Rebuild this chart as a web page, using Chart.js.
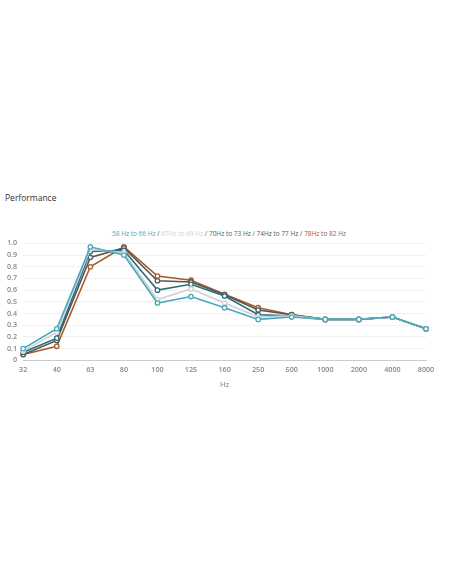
<!DOCTYPE html>
<html>
<head>
<meta charset="utf-8">
<script src="https://cdn.jsdelivr.net/npm/chart.js@4/dist/chart.umd.min.js"></script>
<style>
  body { margin: 0; background: #fff; font-family: "Open Sans", sans-serif; }
  .title { position: absolute; left: 5px; top: 192px; font-size: 8.5px; color: #333; }
  .legend { position: absolute; left: 0; top: 229px; width: 458px; text-align: center; font-size: 6.5px; white-space: nowrap; }
  .legend .sep { color: #555; }
  .wrap { position: absolute; left: 0; top: 233px; width: 452px; height: 156px; }
</style>
</head>
<body>
<div class="title">Performance</div>
<div class="legend" id="legend"></div>
<div class="wrap"><canvas id="chart"></canvas></div>
<script>
const frequencies = ['32', '40', '63', '80', '100', '125', '160', '250', '500', '1000', '2000', '4000', '8000'];
const seriesNames = ['58 Hz to 66 Hz', '67Hz to 69 Hz', '70Hz to 73 Hz', '74Hz to 77 Hz', '78Hz to 82 Hz'];
const seriesColors = ['#46a9bd', '#d2d2d2', '#2b6e7b', '#555555', '#a65b2a'];

const hz58to66 = [0.10, 0.27, 0.97, 0.90, 0.49, 0.545, 0.45, 0.35, 0.37, 0.35, 0.35, 0.37, 0.27];
const hz67to69 = [0.08, 0.24, 0.95, 0.92, 0.52, 0.61, 0.49, 0.37, 0.38, 0.35, 0.35, 0.37, 0.27];
const hz70to73 = [0.07, 0.19, 0.93, 0.94, 0.60, 0.65, 0.55, 0.39, 0.38, 0.35, 0.35, 0.37, 0.27];
const hz74to77 = [0.05, 0.17, 0.88, 0.96, 0.68, 0.67, 0.56, 0.43, 0.39, 0.35, 0.35, 0.37, 0.27];
const hz78to82 = [0.05, 0.12, 0.80, 0.97, 0.72, 0.685, 0.565, 0.45, 0.39, 0.35, 0.35, 0.37, 0.27];

const seriesValues = [hz58to66, hz67to69, hz70to73, hz74to77, hz78to82];

// legend as coloured text joined by slashes
const legend = document.getElementById('legend');
seriesNames.forEach((name, i) => {
  if (i > 0) {
    const sep = document.createElement('span');
    sep.className = 'sep';
    sep.textContent = ' / ';
    legend.appendChild(sep);
  }
  const item = document.createElement('span');
  item.style.color = seriesColors[i];
  item.textContent = name;
  legend.appendChild(item);
});

// first dataset is painted last, so the teal line ends up on top
const datasets = seriesNames.map((name, i) => ({
  label: name,
  data: seriesValues[i],
  borderColor: seriesColors[i],
  backgroundColor: '#fff',
  pointBackgroundColor: '#fff',
  pointBorderColor: seriesColors[i],
  borderWidth: 1.6,
  pointRadius: 2.2,
  pointBorderWidth: 1.3,
  tension: 0,
  fill: false,
}));

const tickFont = { family: 'Open Sans', size: 7.2, weight: '600' };

new Chart(document.getElementById('chart'), {
  type: 'line',
  data: { labels: frequencies, datasets },
  options: {
    responsive: true,
    maintainAspectRatio: false,
    animation: false,
    layout: { padding: { left: 1, right: 26, top: 0, bottom: 0 } },
    plugins: {
      legend: { display: false },
      tooltip: { enabled: false },
    },
    scales: {
      x: {
        grid: { display: false, drawTicks: false },
        border: { color: '#cccccc' },
        ticks: { color: '#888', font: tickFont, padding: 5, maxRotation: 0, autoSkip: false },
        title: { display: true, text: 'Hz', color: '#999', font: { family: 'Open Sans', size: 7.5, weight: '600' }, padding: { top: 1, bottom: 0 } },
      },
      y: {
        min: 0,
        max: 1,
        grid: { color: '#f1f1f1', drawTicks: false },
        border: { display: false },
        ticks: {
          stepSize: 0.1,
          autoSkip: false,
          color: '#888',
          font: tickFont,
          padding: 6,
          callback: (v) => (v === 0 ? '0' : v.toFixed(1)),
        },
      },
    },
  },
});
</script>
</body>
</html>
